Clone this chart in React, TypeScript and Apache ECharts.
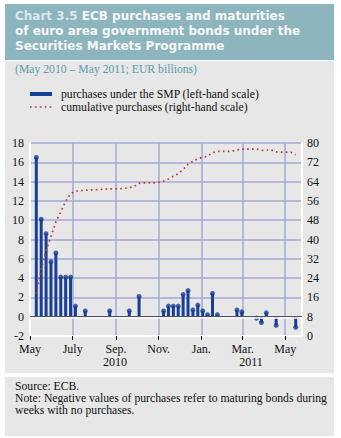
import React, { useEffect, useRef } from 'react';
import * as echarts from 'echarts';

// Weekly settlement dates (Mondays)
const weekDates: string[] = [
  '2010-05-10', '2010-05-17', '2010-05-24', '2010-05-31', '2010-06-07', '2010-06-14', '2010-06-21', '2010-06-28',
  '2010-07-05', '2010-07-12', '2010-07-19', '2010-07-26', '2010-08-02', '2010-08-09', '2010-08-16', '2010-08-23',
  '2010-08-30', '2010-09-06', '2010-09-13', '2010-09-20', '2010-09-27', '2010-10-04', '2010-10-11', '2010-10-18',
  '2010-10-25', '2010-11-01', '2010-11-08', '2010-11-15', '2010-11-22', '2010-11-29', '2010-12-06', '2010-12-13',
  '2010-12-20', '2010-12-27', '2011-01-03', '2011-01-10', '2011-01-17', '2011-01-24', '2011-01-31', '2011-02-07',
  '2011-02-14', '2011-02-21', '2011-02-28', '2011-03-07', '2011-03-14', '2011-03-21', '2011-03-28', '2011-04-04',
  '2011-04-11', '2011-04-18', '2011-04-25', '2011-05-02', '2011-05-09', '2011-05-16',
];

// Weekly purchases under the SMP (EUR billions, left-hand scale); null = no purchases
const purchases: (number | null)[] = [
  16.5, 10.1, 8.6, 5.7, 6.6, 4.1, 4.1, 4.1,
  1.1, null, 0.6, null, null, null, null, 0.6,
  null, null, null, 0.6, null, 2.1, null, null,
  null, null, 0.6, 1.1, 1.1, 1.1, 2.3, 2.7,
  0.7, 1.2, 0.6, 0.2, 2.4, 0.2, null, null,
  null, 0.7, 0.5, null, null, -0.15, -0.6, 0.4,
  null, -0.9, null, null, null, -1.1,
];

// Cumulative purchases (EUR billions, right-hand scale)
const cumulative: number[] = [
  17.5, 27.5, 35.5, 41.3, 47.2, 51.5, 55.8, 59.0,
  60.0, 60.2, 60.4, 60.6, 60.6, 60.7, 60.9, 61.0,
  61.0, 61.0, 61.2, 61.5, 62.0, 63.3, 63.5, 63.5,
  63.5, 63.7, 64.2, 65.1, 66.2, 67.3, 69.0, 71.2,
  72.4, 73.5, 74.1, 74.5, 76.0, 76.5, 76.5, 76.5,
  76.6, 77.1, 77.5, 77.5, 77.5, 77.5, 76.9, 77.1,
  77.1, 76.3, 76.2, 76.2, 76.2, 75.1,
];

const xStart = '2010-05-01';
const xEnd = '2011-05-25';
const monthTicks: string[] = ['2010-05-01', '2010-07-01', '2010-09-01', '2010-11-01', '2011-01-01', '2011-03-01', '2011-05-01'];
const monthLabels: string[] = ['May', 'July', 'Sep.', 'Nov.', 'Jan.', 'Mar.', 'May'];
const yearLabels: string[] = ['2010', '2011'];

const titleLines: string[] = [
  'ECB purchases and maturities',
  'of euro area government bonds under the',
  'Securities Markets Programme',
];
const chartNumber = 'Chart 3.5';
const subtitle = '(May 2010 \u2013 May 2011; EUR billions)';
const legendBar = 'purchases under the SMP (left-hand scale)';
const legendLine = 'cumulative purchases (right-hand scale)';
const footer: string[] = [
  'Source: ECB.',
  'Note: Negative values of purchases refer to maturing bonds during',
  'weeks with no purchases.',
];

const toTs = (s: string) => {
  const [y, m, d] = s.split('-').map(Number);
  return Date.UTC(y, m - 1, d);
};

const BLUE = '#173f95';
const RED = '#b8403a';
const GRID = '#a3aad6';
const SERIF = '"Liberation Serif", "Times New Roman", serif';
const SANS = '"DejaVu Sans", "Open Sans", sans-serif';
const TXT = `11.7px ${SERIF}`;
const TITLE_FONT = `bold 12px ${SANS}`;

export default function App() {
  const ref = useRef<HTMLDivElement>(null);

  useEffect(() => {
    if (!ref.current) return;
    const chart = echarts.init(ref.current, undefined, { renderer: 'svg' });
    const tickTs = monthTicks.map(toTs);
    const barData = weekDates
      .map((d, i) => [toTs(d), purchases[i]])
      .filter((p) => p[1] !== null);
    const lineData = weekDates.map((d, i) => [toTs(d), cumulative[i]]);

    const titleStyle = (text: string, extra: any = {}) => ({
      text,
      fill: '#f7f7f7',
      font: TITLE_FONT,
      lineHeight: 14,
      verticalAlign: 'middle',
      ...extra,
    });

    const option: any = {
      animation: false,
      grid: { left: 30, right: 39, top: 143, bottom: 102, containLabel: false },
      xAxis: {
        type: 'value',
        min: toTs(xStart),
        max: toTs(xEnd),
        axisLine: { show: true, onZero: false, lineStyle: { color: '#ffffff', width: 2 } },
        axisTick: { show: true, customValues: tickTs, length: 4, lineStyle: { color: '#000', width: 1 } },
        axisLabel: {
          customValues: tickTs,
          formatter: (v: number) => {
            const i = tickTs.indexOf(v);
            return i >= 0 ? monthLabels[i] : '';
          },
          color: '#111',
          fontFamily: SERIF,
          fontSize: 12,
          margin: 7,
        },
        splitLine: { show: true, lineStyle: { color: GRID, width: 1.5 } },
      },
      yAxis: [
        {
          type: 'value',
          min: -2,
          max: 18,
          interval: 2,
          position: 'left',
          axisLine: { show: true, onZero: false, lineStyle: { color: '#ffffff', width: 2 } },
          axisTick: { show: false },
          axisLabel: { color: '#111', fontFamily: SERIF, fontSize: 12, margin: 6 },
          splitLine: { show: true, lineStyle: { color: GRID, width: 1.5 } },
        },
        {
          type: 'value',
          min: 0,
          max: 80,
          interval: 8,
          position: 'right',
          axisLine: { show: true, onZero: false, lineStyle: { color: '#ffffff', width: 2 } },
          axisTick: { show: false },
          axisLabel: { color: '#111', fontFamily: SERIF, fontSize: 12, margin: 5 },
          splitLine: { show: false },
        },
      ],
      series: [
        {
          type: 'bar',
          yAxisIndex: 0,
          data: barData,
          barWidth: 3,
          itemStyle: { color: BLUE },
          markLine: {
            silent: true,
            symbol: 'none',
            label: { show: false },
            data: [
              { yAxis: -0.13, lineStyle: { color: '#ffffff', width: 1.5, type: 'solid' } },
              { yAxis: 0, lineStyle: { color: '#555555', width: 1, type: 'solid' } },
            ],
          },
          z: 3,
        },
        {
          type: 'scatter',
          yAxisIndex: 0,
          data: barData,
          symbol: 'circle',
          symbolSize: 5,
          itemStyle: { color: BLUE },
          z: 4,
        },
        {
          type: 'line',
          yAxisIndex: 1,
          data: lineData,
          showSymbol: false,
          symbol: 'none',
          lineStyle: { color: RED, width: 1.7, type: [1.7, 3.2], cap: 'butt' },
          z: 5,
        },
      ],
      graphic: [
        {
          type: 'text',
          x: 15,
          y: 16,
          style: titleStyle('{a|' + chartNumber + '} ' + titleLines[0], {
            rich: { a: { fill: '#dbe7ea', font: TITLE_FONT, lineHeight: 14 } },
          }),
        },
        { type: 'text', x: 15, y: 31, style: titleStyle(titleLines[1]) },
        { type: 'text', x: 15, y: 46, style: titleStyle(titleLines[2]) },
        { type: 'text', x: 15, y: 69.5, style: { text: subtitle, fill: '#5b9da8', font: TXT, verticalAlign: 'middle' } },
        { type: 'rect', shape: { x: 30, y: 92, width: 22, height: 4 }, style: { fill: BLUE } },
        { type: 'text', x: 61, y: 94, style: { text: legendBar, fill: '#111', font: TXT, verticalAlign: 'middle' } },
        { type: 'line', shape: { x1: 30, y1: 107, x2: 53, y2: 107 }, style: { stroke: RED, lineWidth: 1.7, lineDash: [1.7, 3.2] } },
        { type: 'text', x: 61, y: 107, style: { text: legendLine, fill: '#111', font: TXT, verticalAlign: 'middle' } },
        { type: 'text', x: 115, y: 361.5, style: { text: yearLabels[0], fill: '#111', font: `12px ${SERIF}`, align: 'center', verticalAlign: 'middle' } },
        { type: 'text', x: 251, y: 361.5, style: { text: yearLabels[1], fill: '#111', font: `12px ${SERIF}`, align: 'center', verticalAlign: 'middle' } },
        { type: 'text', x: 15, y: 386, style: { text: footer[0], fill: '#111', font: TXT, verticalAlign: 'middle' } },
        { type: 'text', x: 15, y: 398.5, style: { text: footer[1], fill: '#111', font: TXT, verticalAlign: 'middle' } },
        { type: 'text', x: 15, y: 410.5, style: { text: footer[2], fill: '#111', font: TXT, verticalAlign: 'middle' } },
      ],
    };
    chart.setOption(option);
    return () => chart.dispose();
  }, []);

  return (
    <div style={{ position: 'absolute', left: 0, top: 0, width: 341, height: 438, background: '#ffffff' }}>
      <div style={{ position: 'absolute', left: 5, top: 4, width: 329, height: 56, background: '#8db5be' }} />
      <div style={{ position: 'absolute', left: 5, top: 61, width: 329, height: 312, background: '#e7e7e7' }} />
      <div style={{ position: 'absolute', left: 5, top: 377, width: 329, height: 59, background: '#e7e7e7' }} />
      <div ref={ref} style={{ position: 'absolute', left: 0, top: 0, width: 341, height: 438 }} />
    </div>
  );
}
